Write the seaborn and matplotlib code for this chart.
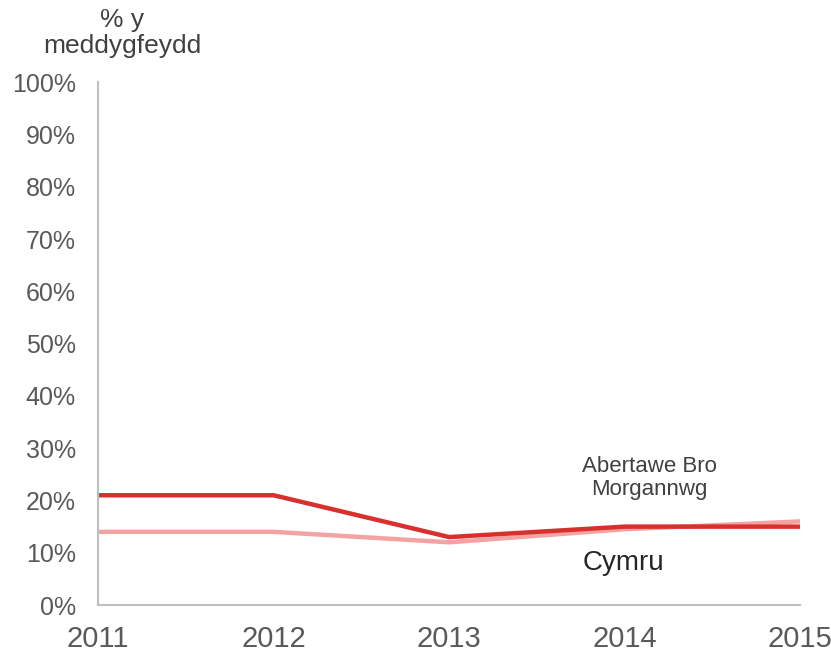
import matplotlib
matplotlib.use("Agg")
import matplotlib.pyplot as plt
import seaborn as sns
import pandas as pd

years = [2011, 2012, 2013, 2014, 2015]
abertawe = [21, 21, 13, 15, 15]
cymru = [14, 14, 12, 14.5, 16]
yticks = [0, 10, 20, 30, 40, 50, 60, 70, 80, 90, 100]

sns.set_theme(style="white")
plt.rcParams['font.family'] = ['Liberation Sans', 'DejaVu Sans']

df = pd.DataFrame({"year": years * 2,
                   "value": cymru + abertawe,
                   "series": ["Cymru"] * 5 + ["Abertawe Bro Morgannwg"] * 5})

fig = plt.figure(figsize=(8.31, 6.52), dpi=100)
ax = fig.add_axes([0.118, 0.072, 0.845, 0.802])
sns.lineplot(data=df, x="year", y="value", hue="series",
             palette={"Cymru": "#f4a3a3", "Abertawe Bro Morgannwg": "#d8302c"},
             linewidth=3.2, legend=False, ax=ax)

ax.set_xlim(2011, 2015)
ax.set_ylim(0, 100)
ax.set_xticks(years)
ax.set_xticklabels([str(y) for y in years])
ax.set_yticks(yticks)
ax.set_yticklabels([f"{v}%" for v in yticks])
ax.set_xlabel("")
ax.set_ylabel("")
for s in ["top", "right"]:
    ax.spines[s].set_visible(False)
for s in ["left", "bottom"]:
    ax.spines[s].set_color("#bfbfbf")
    ax.spines[s].set_linewidth(1.5)
ax.tick_params(axis="both", colors="#bfbfbf", length=6, width=1.5, direction="out",
               labelcolor="#595959")
ax.tick_params(axis="y", labelsize=18, pad=10)
ax.tick_params(axis="x", labelsize=21, pad=8)

ax.text(2014.14, 24.3, "Abertawe Bro\nMorgannwg", ha="center", va="center",
        fontsize=16, color="#404040", linespacing=1.15)
ax.text(2013.99, 8, "Cymru", ha="center", va="center", fontsize=20, color="#262626")
fig.text(0.147, 0.95, "% y\nmeddygfeydd", ha="center", va="center",
         fontsize=19, color="#404040", linespacing=1.1)

fig.savefig("out.png", dpi=100)
